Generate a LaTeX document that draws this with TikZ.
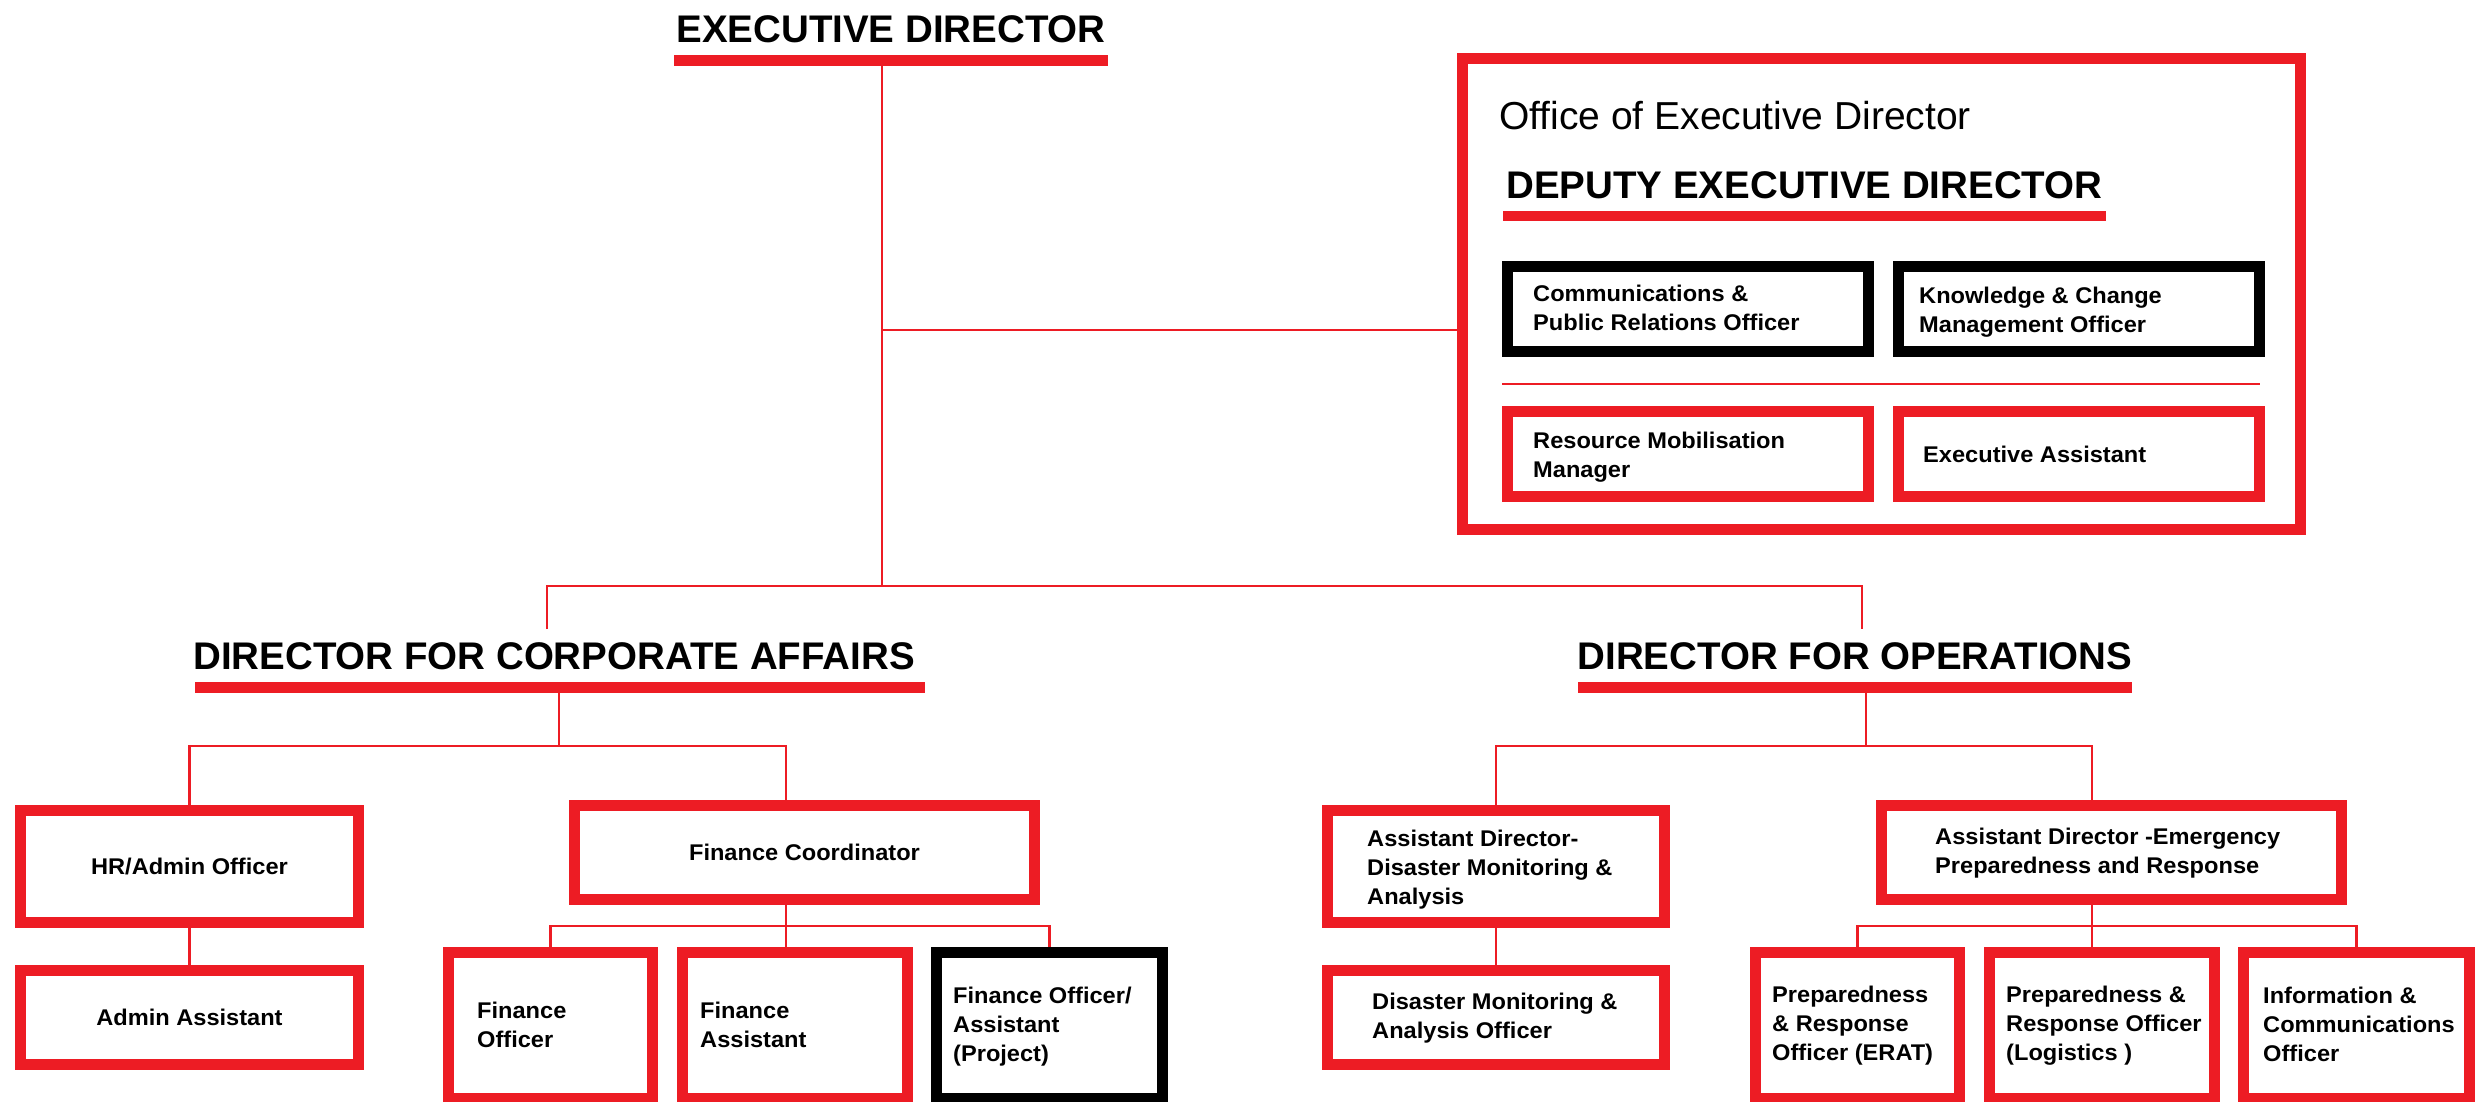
\documentclass[tikz,border=0pt]{standalone}
\usepackage{fontspec}
\setmainfont{Liberation Sans}
\newfontfamily\boxfont{Liberation Sans}[FakeStretch=1.04]
\definecolor{rd}{RGB}{237,28,36}
\begin{document}
\begin{tikzpicture}[x=1pt,y=-1pt,
  conn/.style={draw=rd, line width=2.8},
  rbox/.style={draw=rd, line width=11, inner sep=0},
  kbox/.style={draw=black, line width=11, inner sep=0},
  head/.style={font=\bfseries\fontsize{38.5}{40}\selectfont, inner sep=0},
  hbar/.style={fill=rd, inner sep=0, outer sep=0, anchor=north west},
  txt/.style={font=\boxfont\bfseries\fontsize{22.7}{29}\selectfont, align=left, anchor=west, inner sep=0},
  ctxt/.style={font=\boxfont\bfseries\fontsize{22.7}{29}\selectfont, align=center}]
\useasboundingbox[fill=white] (0,0) rectangle (2489,1101);

% ---- Executive Director
\node[head, anchor=base] (edt) at (891,42) {EXECUTIVE DIRECTOR};
\node[hbar, minimum width=434, minimum height=11] (edbar) at (674,55) {};

% ---- Office of Executive Director
\node[rbox, minimum width=838, minimum height=471] (office) at (1881.5,294) {};
\node[anchor=base west, inner sep=0, font=\fontsize{39}{41}\selectfont] (offt) at (1499,129) {Office of Executive Director};
\node[head, anchor=base] (dept) at (1804.5,198) {DEPUTY EXECUTIVE DIRECTOR};
\node[hbar, minimum width=603, minimum height=10] (depbar) at (1503,211) {};
\node[kbox, minimum width=361, minimum height=85] (comm) at (1688,309) {};
\node[txt] (commt) at (1533,308) {Communications \&\\Public Relations Officer};
\node[kbox, minimum width=361, minimum height=85] (know) at (2079,309) {};
\node[txt] (knowt) at (1919,312) {Knowledge \& Change\\Management Officer};
\draw[conn] (1502,384) -- (2260,384);
\node[rbox, minimum width=361, minimum height=85] (res) at (1688,454) {};
\node[txt] (rest) at (1533,457) {Resource Mobilisation\\Manager};
\node[rbox, minimum width=361, minimum height=85] (ea) at (2079,454) {};
\node[txt] (eat) at (1923,454.5) {Executive Assistant};

% ---- Directors
\node[head, anchor=base] (dcat) at (554,669) {DIRECTOR FOR CORPORATE AFFAIRS};
\node[hbar, minimum width=730, minimum height=11] (dcabar) at (195,682) {};
\node[head, anchor=base] (dfot) at (1855,669) {DIRECTOR FOR OPERATIONS};
\node[hbar, minimum width=554, minimum height=11] (dfobar) at (1578,682) {};

% ---- Corporate affairs boxes
\node[rbox, minimum width=338, minimum height=112, ctxt] (hr) at (189.5,866.5) {HR/Admin Officer};
\node[rbox, minimum width=460, minimum height=94, ctxt] (fc) at (804.5,852.5) {Finance Coordinator};
\node[rbox, minimum width=338, minimum height=94, ctxt] (adm) at (189.5,1017.5) {Admin Assistant};
\node[rbox, minimum width=204, minimum height=146] (fo) at (550.5,1025.5) {};
\node[txt] (fot) at (477,1024.7) {Finance\\Officer};
\node[rbox, minimum width=225, minimum height=146] (fa) at (795,1025.5) {};
\node[txt] (fat) at (700,1024.7) {Finance\\Assistant};
\node[kbox, minimum width=226, minimum height=146] (fop) at (1049.5,1025.5) {};
\node[txt] (fopt) at (953,1027) {Finance Officer/\\Assistant\\(Project)};

% ---- Operations boxes
\node[rbox, minimum width=337, minimum height=112] (addma) at (1496,866.5) {};
\node[txt] (addmat) at (1367,870) {Assistant Director-\\Disaster Monitoring \&\\Analysis};
\node[rbox, minimum width=460, minimum height=94] (adepr) at (2111.5,852.5) {};
\node[txt] (adeprt) at (1935,853.5) {Assistant Director -Emergency\\Preparedness and Response};
\node[rbox, minimum width=337, minimum height=94] (dmao) at (1496,1017.5) {};
\node[txt] (dmaot) at (1372,1018.5) {Disaster Monitoring \&\\Analysis Officer};
\node[rbox, minimum width=204, minimum height=146] (erat) at (1857.5,1025.5) {};
\node[txt] (eratt) at (1772,1025.5) {Preparedness\\\& Response\\Officer (ERAT)};
\node[rbox, minimum width=225, minimum height=146] (log) at (2102,1025.5) {};
\node[txt] (logt) at (2006,1025.5) {Preparedness \&\\Response Officer\\(Logistics )};
\node[rbox, minimum width=226, minimum height=146] (info) at (2356.5,1025.5) {};
\node[txt] (infot) at (2263,1024) {Information \&\\Communications\\Officer};

% ---- Connectors
\coordinate (eA) at (882,586);
\coordinate (eB) at (882,330);
\coordinate (cL) at (547,586);
\coordinate (cLe) at (547,629);
\coordinate (oR) at (1862,586);
\coordinate (oRe) at (1862,629);
\draw[conn] (edbar.south -| eA) -- (eA);
\draw[conn] (eB) -- (eB -| office.west);
\draw[conn] (cLe) -- (cL) -- (oR) -- (oRe);

\coordinate (dcaJ) at (559,746);
\coordinate (fcJ) at (786,746);
\draw[conn] (dcabar.south -| dcaJ) -- (dcaJ);
\draw[conn] (hr.north) |- (fcJ) -- (fcJ |- fc.north);
\draw[conn] (hr.south) -- (adm.north);
\coordinate (fcB) at (786,926);
\draw[conn] (fc.south -| fcB) -- (fcB |- fa.north);
\draw[conn] (fo.north) |- (fcB) -| (fop.north);

\coordinate (opJ) at (1866,746);
\coordinate (epJ) at (2092,746);
\draw[conn] (dfobar.south -| opJ) -- (opJ);
\draw[conn] (addma.north) |- (epJ) -- (epJ |- adepr.north);
\draw[conn] (addma.south) -- (dmao.north);
\coordinate (epB) at (2092,926);
\draw[conn] (adepr.south -| epB) -- (epB |- log.north);
\draw[conn] (erat.north) |- (epB) -| (info.north);
\end{tikzpicture}
\end{document}
